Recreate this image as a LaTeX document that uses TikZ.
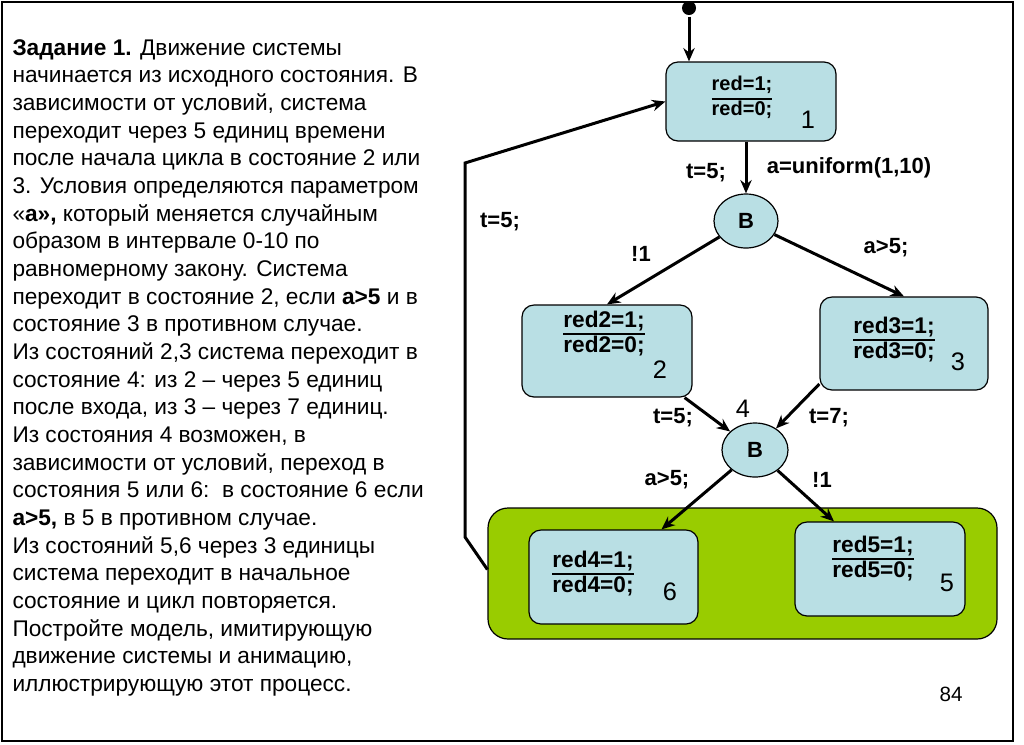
\documentclass[tikz,border=0pt]{standalone}
\usepackage{fontspec}
\setmainfont{Liberation Sans}
\usetikzlibrary{arrows.meta,shapes.geometric,positioning}

\definecolor{stateblue}{RGB}{185,223,228}
\definecolor{groupgreen}{RGB}{153,204,0}

\newcommand{\ovl}[1]{\sbox0{#1}\rlap{\rule[\dimexpr\ht0+0.9pt\relax]{\wd0}{1.6pt}}\usebox0}

\begin{document}
\begin{tikzpicture}[x=0.75pt,y=-0.75pt,->,>={Stealth[length=10pt,width=8.5pt]},
    line width=2.25pt,
    state/.style={draw,-,line width=0.9pt,fill=stateblue,rounded corners=9pt},
    branch/.style={ellipse,draw,-,line width=0.9pt,fill=stateblue,inner sep=0pt,
        font=\bfseries\fontsize{16.5}{18}\selectfont},
    vars/.style={align=center,inner sep=0pt,font=\bfseries\fontsize{17}{18.75}\selectfont},
    num/.style={inner sep=0pt,font=\fontsize{19}{20}\selectfont},
    lbl/.style={inner sep=0pt,font=\bfseries\fontsize{16.5}{20}\selectfont}]

\useasboundingbox (0,0) rectangle (1024,744);
\draw[-,line width=1.5pt] (2,2) rectangle (1013,741);

% task text
\node[anchor=north west,align=left,inner sep=0pt,
    font=\fontsize{17}{20.74}\selectfont] (task) at (11,38) {%
\textbf{Задание 1.} Движение системы\\
начинается из исходного состояния. В\\
зависимости от условий, система\\
переходит через 5 единиц времени\\
после начала цикла в состояние 2 или\\
3. Условия определяются параметром\\
«\textbf{а»,} который меняется случайным\\
образом в интервале 0-10 по\\
равномерному закону. Система\\
переходит в состояние 2, если \textbf{а>5} и в\\
состояние 3 в противном случае.\\
Из состояний 2,3 система переходит в\\
состояние 4: из 2 – через 5 единиц\\
после входа, из 3 – через 7 единиц.\\
Из состояния 4 возможен, в\\
зависимости от условий, переход в\\
состояния 5 или 6:\ \ в состояние 6 если\\
\textbf{а>5,} в 5 в противном случае.\\
Из состояний 5,6 через 3 единицы\\
система переходит в начальное\\
состояние и цикл повторяется.\\
Постройте модель, имитирующую\\
движение системы и анимацию,\\
иллюстрирующую этот процесс.};

% group of states 5 and 6
\node[state,rounded corners=15pt,fill=groupgreen,minimum width=381.75pt,
    minimum height=98.25pt] (G) at (742.5,573.5) {};

% states
\node[circle,fill,inner sep=0pt,minimum size=10.5pt] (init) at (689,8) {};
\node[state,minimum width=127.5pt,minimum height=59.25pt] (S1) at (751,101.5) {};
\node[state,minimum width=127.5pt,minimum height=69pt] (S2) at (607,351) {};
\node[state,minimum width=126pt,minimum height=69.75pt] (S3) at (904,343.5) {};
\node[state,minimum width=127.5pt,minimum height=70.5pt] (S5) at (880,569) {};
\node[state,minimum width=126.75pt,minimum height=70.5pt] (S6) at (613.5,577) {};
\node[branch,minimum width=48pt,minimum height=40.5pt] (B1) at (746,221) {B};
\node[branch,minimum width=49.5pt,minimum height=40.5pt] (B2) at (755,450) {B};

\node[vars,font=\bfseries\fontsize{15}{18.75}\selectfont] (S1v) at (742,97.5)
    {red=1;\\\ovl{red=0;}};
\node[vars] (S2v) at (604,334) {red2=1;\\\ovl{red2=0;}};
\node[vars] (S3v) at (894,339.5) {red3=1;\\\ovl{red3=0;}};
\node[vars] (S5v) at (873,558.5) {red5=1;\\\ovl{red5=0;}};
\node[vars] (S6v) at (593,573.5) {red4=1;\\\ovl{red4=0;}};

\node[num] (S1n) at (808,120) {1};
\node[num] (S2n) at (660,370) {2};
\node[num] (S3n) at (958,362) {3};
\node[num] (S4n) at (743,409) {4};
\node[num] (S5n) at (947,583) {5};
\node[num] (S6n) at (670,592) {6};

% loop back corners
\coordinate (L1) at (465,537);
\coordinate (L2) at (465,163);

\path
    (init) edge (init |- S1.north)
    (B1 |- S1.south) edge (B1.north)
    (B1) edge (S2.north)
    (B1) edge (S3.north)
    ([xshift=-6pt]S2.south east) edge (B2)
    ([yshift=5pt]S3.south west) edge (B2)
    (B2) edge ([xshift=36pt]S6.north)
    (B2) edge ([xshift=-34.5pt]S5.north);
\draw ([yshift=3pt]G.west) -- (L1) -- (L2) -- (S1.west);

% transition labels
\node[lbl] (t1) at (706,173) {t=5;};
\node[lbl] (u1) at (849,168) {a=uniform(1,10)};
\node[lbl] (n1) at (641,254) {!1};
\node[lbl] (g1) at (886,248) {a>5;};
\node[lbl] (t0) at (500,222) {t=5;};
\node[lbl] (t2) at (673,418) {t=5;};
\node[lbl] (t3) at (829,418) {t=7;};
\node[lbl] (g2) at (667,480) {a>5;};
\node[lbl] (n2) at (822,480) {!1};

\node[inner sep=0pt,font=\fontsize{15.5}{18}\selectfont] (page) at (951,694) {84};

\end{tikzpicture}
\end{document}
